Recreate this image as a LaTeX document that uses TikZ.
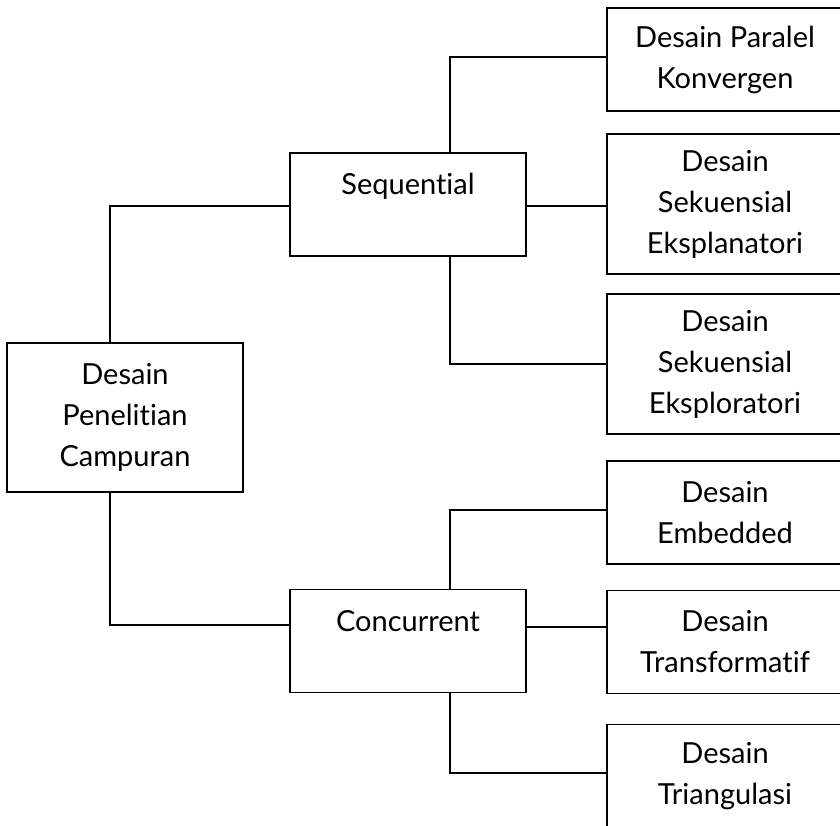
\documentclass[tikz,border=0pt]{standalone}
\usepackage{fontspec}
\setmainfont{Lato}[Ligatures={NoCommon}]
\usepackage{tikz}

\tikzset{
    kotak/.style={draw, line width=1.2pt, align=center, inner sep=0pt,
        minimum width=236pt, minimum height=103pt,
        font=\fontsize{29}{41}\selectfont},
    garis/.style={line width=2.8pt}
}

\begin{document}
\begin{tikzpicture}[x=1pt,y=-1pt]
    \clip (0,0) rectangle (840,825);
    % level 0 and 1
    \node[kotak, minimum height=149pt] (campuran) at (125,417.5) {Desain\\Penelitian\\Campuran};
    \node[kotak] (sequential) at (408,204.5) {Sequential\\~};
    \node[kotak] (concurrent) at (408,641) {Concurrent\\~};
    % level 2
    \node[kotak] (paralel) at (725,59.5) {Desain Paralel\\Konvergen};
    \node[kotak, minimum height=140pt] (eksplanatori) at (725,204) {Desain\\Sekuensial\\Eksplanatori};
    \node[kotak, minimum height=140pt] (eksploratori) at (725,364) {Desain\\Sekuensial\\Eksploratori};
    \node[kotak] (embedded) at (725,512.5) {Desain\\Embedded};
    \node[kotak] (transformatif) at (725,642) {Desain\\Transformatif};
    \node[kotak] (triangulasi) at (725,776) {Desain\\Triangulasi};
    % connectors
    \draw[garis] ([xshift=-15pt]campuran.north) |- ([yshift=-1.5pt]sequential.west);
    \draw[garis] ([xshift=-15pt]campuran.south) |- ([yshift=16pt]concurrent.west);
    \draw[garis] ([xshift=42pt]sequential.north) |- ([yshift=2.5pt]paralel.west);
    \draw[garis] ([yshift=-1.5pt]sequential.east) -- ([yshift=-1.5pt]sequential.east -| eksplanatori.west);
    \draw[garis] ([xshift=42pt]sequential.south) |- (eksploratori.west);
    \draw[garis] ([xshift=42pt]concurrent.north) |- ([yshift=2.5pt]embedded.west);
    \draw[garis] ([yshift=14pt]concurrent.east) -- ([yshift=14pt]concurrent.east -| transformatif.west);
    \draw[garis] ([xshift=42pt]concurrent.south) |- ([yshift=3pt]triangulasi.west);
\end{tikzpicture}
\end{document}
